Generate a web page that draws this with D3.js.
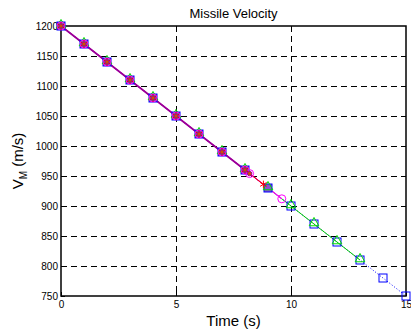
<!DOCTYPE html>
<html>
<head>
<meta charset="utf-8">
<script src="https://d3js.org/d3.v7.min.js"></script>
<style>
  body { margin: 0; background: #fff; }
  svg { display: block; font-family: "Liberation Sans", Arial, sans-serif; }
</style>
</head>
<body>
<svg width="411" height="335"></svg>
<script>
// missile velocity samples, V = 1200 - 30 t
const t_blue = [0, 1, 2, 3, 4, 5, 6, 7, 8, 9, 10, 11, 12, 13, 14, 15];
const v_blue = [1200, 1170, 1140, 1110, 1080, 1050, 1020, 990, 960, 930, 900, 870, 840, 810, 780, 750];
const t_green = [0, 1, 2, 3, 4, 5, 6, 7, 8, 9, 10, 11, 12, 13];
const v_green = [1200, 1170, 1140, 1110, 1080, 1050, 1020, 990, 960, 930, 900, 870, 840, 810];
const t_red = [0, 1, 2, 3, 4, 5, 6, 7, 8, 8.8];
const v_red = [1200, 1170, 1140, 1110, 1080, 1050, 1020, 990, 960, 936];
const t_mag = [0, 1, 2, 3, 4, 5, 6, 7, 8, 8.2, 9.6];
const v_mag = [1200, 1170, 1140, 1110, 1080, 1050, 1020, 990, 960, 954, 912];
const t_pur = [0, 1, 2, 3, 4, 5, 6, 7, 8, 8.2];
const v_pur = [1200, 1170, 1140, 1110, 1080, 1050, 1020, 990, 960, 954];

const x_ticks = [0, 5, 10, 15];
const y_ticks = [750, 800, 850, 900, 950, 1000, 1050, 1100, 1150, 1200];

const svg = d3.select('svg');
const m_left = 61, m_right = 406, m_top = 26, m_bottom = 296;

const x = d3.scaleLinear().domain([0, 15]).range([m_left, m_right]);
const y = d3.scaleLinear().domain([750, 1200]).range([m_bottom, m_top]);

function zip(ts, vs) {
    return ts.map(function(t, i) { return [t, vs[i]]; });
}

// grid
const grid = svg.append('g')
    .attr('stroke', '#000')
    .attr('stroke-width', 1)
    .attr('stroke-dasharray', '6,4')
    .attr('shape-rendering', 'crispEdges');
grid.selectAll('.gx')
    .data(x_ticks.slice(1, -1))
    .join('line')
    .attr('class', 'gx')
    .attr('x1', d => Math.round(x(d)) + 0.5).attr('x2', d => Math.round(x(d)) + 0.5)
    .attr('y1', m_top).attr('y2', m_bottom);
grid.selectAll('.gy')
    .data(y_ticks.slice(1, -1))
    .join('line')
    .attr('class', 'gy')
    .attr('x1', m_left).attr('x2', m_right)
    .attr('y1', d => Math.round(y(d)) + 0.5).attr('y2', d => Math.round(y(d)) + 0.5);

// axes
svg.append('g')
    .attr('transform', 'translate(0,' + m_bottom + ')')
    .call(d3.axisBottom(x).tickValues(x_ticks).tickSize(-4).tickPadding(5).tickFormat(d3.format('d')))
    .call(g => g.select('.domain').remove())
    .call(g => g.selectAll('text').attr('font-size', 10).attr('fill', '#000'));
svg.append('g')
    .attr('transform', 'translate(' + m_left + ',0)')
    .call(d3.axisLeft(y).tickValues(y_ticks).tickSize(-4).tickPadding(3).tickFormat(d3.format('d')))
    .call(g => g.select('.domain').remove())
    .call(g => g.selectAll('text').attr('font-size', 10).attr('fill', '#000'));

svg.append('rect')
    .attr('x', m_left).attr('y', m_top)
    .attr('width', m_right - m_left).attr('height', m_bottom - m_top)
    .attr('fill', 'none')
    .attr('stroke', '#000')
    .attr('stroke-width', 1.5);

const line = d3.line().x(d => x(d[0])).y(d => y(d[1]));
const lines = svg.append('g').attr('fill', 'none');

// blue squares, dotted
lines.append('path').datum(zip(t_blue, v_blue))
    .attr('d', line).attr('stroke', '#0000ff').attr('stroke-dasharray', '1,2');
svg.append('g').selectAll('rect')
    .data(zip(t_blue, v_blue))
    .join('rect')
    .attr('x', d => x(d[0]) - 4).attr('y', d => y(d[1]) - 4)
    .attr('width', 8).attr('height', 8)
    .attr('fill', d => d[0] <= 9 ? '#9050d0' : 'none')
    .attr('stroke', '#0000ff');

// green triangles
lines.append('path').datum(zip(t_green, v_green))
    .attr('d', line).attr('stroke', '#00cc00');
svg.append('g').selectAll('path')
    .data(zip(t_green, v_green))
    .join('path')
    .attr('d', d3.symbol(d3.symbolTriangle, 40))
    .attr('transform', d => 'translate(' + x(d[0]) + ',' + (y(d[1]) - 1) + ')')
    .attr('fill', 'none')
    .attr('stroke', '#00dd00');

// magenta circles
lines.append('path').datum(zip(t_mag, v_mag))
    .attr('d', line).attr('stroke', '#ff00ff').attr('stroke-width', 1.2);
svg.append('g').selectAll('circle')
    .data(zip(t_mag, v_mag))
    .join('circle')
    .attr('cx', d => x(d[0])).attr('cy', d => y(d[1]))
    .attr('r', 4)
    .attr('fill', 'none')
    .attr('stroke', '#ff00ff');

// red stars
lines.append('path').datum(zip(t_red, v_red))
    .attr('d', line).attr('stroke', '#ff0000');
svg.append('g').selectAll('path')
    .data(zip(t_red, v_red))
    .join('path')
    .attr('d', d3.symbol(d3.symbolAsterisk, 40))
    .attr('transform', d => 'translate(' + x(d[0]) + ',' + y(d[1]) + ')')
    .attr('fill', 'none')
    .attr('stroke', '#ff0000');

// purple line on top
lines.append('path').datum(zip(t_pur, v_pur))
    .attr('d', line).attr('stroke', '#990099').attr('stroke-width', 1.6);
svg.append('g').selectAll('circle')
    .data(zip(t_pur, v_pur))
    .join('circle')
    .attr('cx', d => x(d[0])).attr('cy', d => y(d[1]))
    .attr('r', 2.2)
    .attr('fill', '#cc5500')
    .attr('stroke', '#990099');

// labels
svg.append('text')
    .attr('x', (m_left + m_right) / 2).attr('y', 18)
    .attr('text-anchor', 'middle')
    .attr('font-size', 13)
    .text('Missile Velocity');
svg.append('text')
    .attr('x', (m_left + m_right) / 2).attr('y', 326)
    .attr('text-anchor', 'middle')
    .attr('font-size', 15)
    .text('Time (s)');
const yl = svg.append('text')
    .attr('transform', 'translate(23,' + ((m_top + m_bottom) / 2) + ') rotate(-90)')
    .attr('text-anchor', 'middle')
    .attr('font-size', 15);
yl.append('tspan').text('V');
yl.append('tspan').attr('font-size', 10).attr('dy', 4).text('M');
yl.append('tspan').attr('dy', -4).text(' (m/s)');
</script>
</body>
</html>
